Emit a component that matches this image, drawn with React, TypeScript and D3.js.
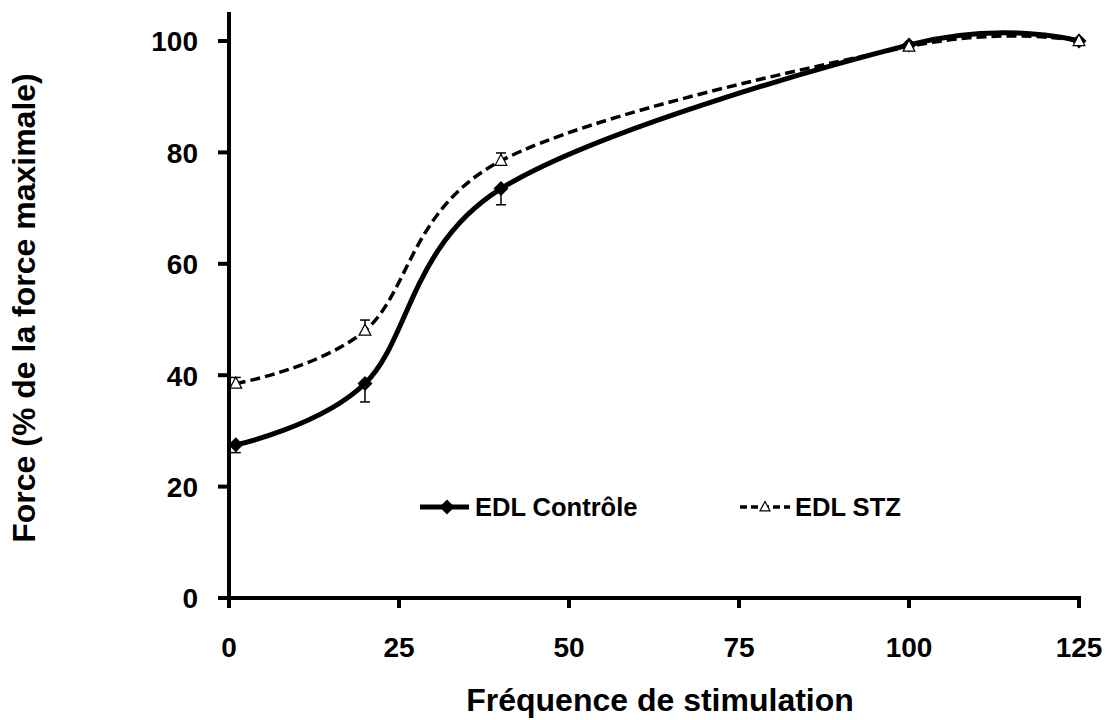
import React from "react";
import * as d3 from "d3";

const freq = [1, 20, 40, 100, 125];
const controle = [27.5, 38.5, 73.5, 99.3, 100];
const controleErr = [1.4, 3.3, 2.9, 0.5, 0.3];
const stz = [38.5, 48, 78.5, 99, 100];
const stzErr = [1.1, 1.9, 1.4, 0.5, 0.3];
const xTicks = [0, 25, 50, 75, 100, 125];
const yTicks = [0, 20, 40, 60, 80, 100];

const W = 1107;
const H = 720;
const font = "'Liberation Sans', Arial, sans-serif";

export default function App() {
  const x = d3.scaleLinear().domain([0, 125]).range([229, 1079]);
  const y = d3.scaleLinear().domain([0, 100]).range([598, 41]);
  const line = d3
    .line<[number, number]>()
    .x((d) => x(d[0]))
    .y((d) => y(d[1]))
    .curve(d3.curveCardinal.tension(0));
  const cPts = freq.map((f, i) => [f, controle[i]] as [number, number]);
  const sPts = freq.map((f, i) => [f, stz[i]] as [number, number]);
  const diamond = (cx: number, cy: number, r: number) =>
    `M${cx},${cy - r}L${cx + r},${cy}L${cx},${cy + r}L${cx - r},${cy}Z`;
  const tri = (cx: number, cy: number, r: number) =>
    `M${cx},${cy - r}L${cx + r * 0.9},${cy + r * 0.7}L${cx - r * 0.9},${cy + r * 0.7}Z`;

  return (
    <svg width={W} height={H} style={{ position: "absolute", left: 0, top: 0, background: "#fff" }}>
      {freq.map((f, i) => (
        <g key={"se" + i} stroke="#000" strokeWidth={1.5}>
          <line x1={x(f)} x2={x(f)} y1={y(stz[i])} y2={y(stz[i] + stzErr[i])} />
          <line x1={x(f) - 5} x2={x(f) + 5} y1={y(stz[i] + stzErr[i])} y2={y(stz[i] + stzErr[i])} />
        </g>
      ))}
      {freq.map((f, i) => (
        <g key={"ce" + i} stroke="#000" strokeWidth={1.5}>
          <line x1={x(f)} x2={x(f)} y1={y(controle[i])} y2={y(controle[i] - controleErr[i])} />
          <line x1={x(f) - 5} x2={x(f) + 5} y1={y(controle[i] - controleErr[i])} y2={y(controle[i] - controleErr[i])} />
        </g>
      ))}
      <path d={line(sPts) || ""} fill="none" stroke="#000" strokeWidth={3.5} strokeDasharray="10,5" />
      <path d={line(cPts) || ""} fill="none" stroke="#000" strokeWidth={5} />
      {cPts.map((p, i) => (
        <path key={"cm" + i} d={diamond(x(p[0]), y(p[1]), 7.5)} fill="#000" />
      ))}
      {sPts.map((p, i) => (
        <path key={"sm" + i} d={tri(x(p[0]), y(p[1]), 6.5)} fill="#fff" stroke="#000" strokeWidth={1.2} />
      ))}
      <line x1={229} x2={229} y1={12} y2={600} stroke="#000" strokeWidth={4} />
      <line x1={227} x2={1081} y1={598} y2={598} stroke="#000" strokeWidth={4} />
      {yTicks.map((t) => (
        <g key={"yt" + t}>
          <line x1={218} x2={229} y1={y(t)} y2={y(t)} stroke="#000" strokeWidth={4} />
          <text x={198} y={y(t)} dy="0.37em" textAnchor="end" fontFamily={font} fontWeight="bold" fontSize={28}>
            {t}
          </text>
        </g>
      ))}
      {xTicks.map((t) => (
        <g key={"xt" + t}>
          <line x1={x(t)} x2={x(t)} y1={598} y2={608} stroke="#000" strokeWidth={4} />
          <text x={x(t)} y={657} textAnchor="middle" fontFamily={font} fontWeight="bold" fontSize={28}>
            {t}
          </text>
        </g>
      ))}
      <text x={660} y={711} textAnchor="middle" fontFamily={font} fontWeight="bold" fontSize={32}>
        Fréquence de stimulation
      </text>
      <text
        transform="translate(35,308) rotate(-90)"
        textAnchor="middle"
        fontFamily={font}
        fontWeight="bold"
        fontSize={32}
      >
        Force (% de la force maximale)
      </text>
      <line x1={420} x2={469} y1={507} y2={507} stroke="#000" strokeWidth={5} />
      <path d={diamond(447, 507, 7.5)} fill="#000" />
      <text x={475} y={507} dy="0.36em" fontFamily={font} fontWeight="bold" fontSize={25.5}>
        EDL Contrôle
      </text>
      <line x1={740} x2={790} y1={507} y2={507} stroke="#000" strokeWidth={3.5} strokeDasharray="7,4" />
      <path d={tri(765, 507, 5.5)} fill="#fff" stroke="#000" strokeWidth={1.2} />
      <text x={795} y={507} dy="0.36em" fontFamily={font} fontWeight="bold" fontSize={25.5}>
        EDL STZ
      </text>
    </svg>
  );
}
